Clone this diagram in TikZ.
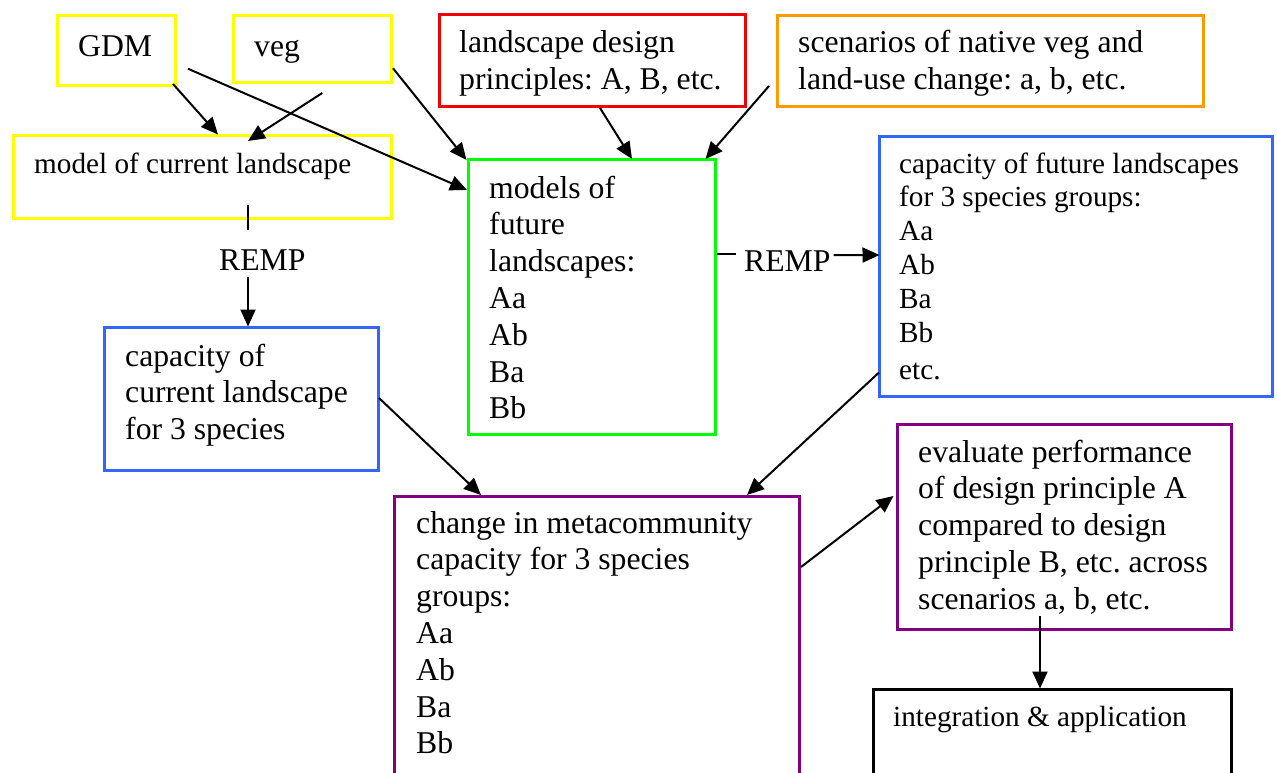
\documentclass[tikz,border=0pt]{standalone}
\usepackage{fontspec}
\setmainfont{Liberation Serif}
\usetikzlibrary{arrows.meta,calc}
\newcommand{\mylines}[1]{\begin{tabular}[t]{@{}l@{}}#1\end{tabular}}
\definecolor{cyel}{RGB}{255,255,0}
\definecolor{cred}{RGB}{240,0,0}
\definecolor{corange}{RGB}{255,153,0}
\definecolor{cgreen}{RGB}{0,255,0}
\definecolor{cblue}{RGB}{51,102,255}
\definecolor{cpurple}{RGB}{128,0,128}
\frenchspacing
\begin{document}
\begin{tikzpicture}[x=1pt,y=-1pt,
  box/.style={draw=#1, line width=3pt, rectangle, inner sep=0pt, outer sep=0pt, anchor=north west},
  big/.style={font=\fontsize{31.7}{36.8}\selectfont, inner sep=0pt, anchor=base west},
  small/.style={font=\fontsize{29.2}{33.8}\selectfont, inner sep=0pt, anchor=base west},
  arr/.style={line width=2pt, -{Triangle[length=17pt,width=15pt]}},
  tickline/.style={line width=1.3pt}]
\useasboundingbox (0,0) rectangle (1277,773);
\clip (0,0) rectangle (1277,773);

% boxes
\node[box=cyel, minimum width=117.5pt, minimum height=70.5pt] (gdm) at (57.5,15.5) {};
\node[box=cyel, minimum width=158.5pt, minimum height=66.5pt] (veg) at (233,16) {};
\node[box=cyel, minimum width=378pt, minimum height=83pt] (model) at (13.5,135.5) {};
\node[box=cred, minimum width=306pt, minimum height=92pt] (design) at (439,15) {};
\node[box=corange, minimum width=426pt, minimum height=91pt] (scen) at (777.5,15.5) {};
\node[box=cgreen, minimum width=247pt, minimum height=274.5pt] (green) at (468.5,160) {};
\node[box=cblue, minimum width=393pt, minimum height=260pt] (futcap) at (879.5,136.5) {};
\node[box=cblue, minimum width=274pt, minimum height=143pt] (curcap) at (104.5,327.5) {};
\node[box=cpurple, minimum width=405pt, minimum height=303.5pt] (change) at (394.5,496.5) {};
\node[box=cpurple, minimum width=334pt, minimum height=205pt] (eval) at (897.5,424.5) {};
\node[box=black, minimum width=358pt, minimum height=110.5pt] (integ) at (873.5,689.5) {};

% texts
\node[big] (gdmT) at (78,57) {GDM};
\node[big] (vegT) at (254,57) {veg};
\node[small] (modelT) at (34,173) {model of current landscape};
\node[big] (designT) at (459,53) {\mylines{landscape design\\principles: A, B, etc.}};
\node[big] (scenT) at (798,53) {\mylines{scenarios of native veg and\\land-use change: a, b, etc.}};
\node[big] (greenT) at (489,198) {\mylines{models of\\future\\landscapes:\\Aa\\Ab\\Ba\\Bb}};
\node[small] (futT) at (899,173) {\mylines{capacity of future landscapes\\for 3 species groups:\\Aa\\Ab\\Ba\\Bb\\[3.5pt]etc.}};
\node[big] (curT) at (125,366) {\mylines{capacity of\\current landscape\\for 3 species}};
\node[big] (changeT) at (416,533) {\mylines{change in metacommunity\\capacity for 3 species\\groups:\\Aa\\Ab\\Ba\\Bb}};
\node[big] (evalT) at (918,462) {\mylines{evaluate performance\\of design principle A\\compared to design\\principle B, etc. across\\scenarios a, b, etc.}};
\node[small] (integT) at (893,726) {integration \& application};
\node[big] (remL) at (219,270) {REMP};
\node[big] (rempR) at (744,271) {REMP};

% connectors
\draw[arr] ($(gdm.south east)+(-2,-2)$) -- ($(model.north)+(15.5,-1)$);
\draw[arr] ($(veg.south)+(10,10.5)$) -- ($(model.north)+(45.5,5.5)$);
\draw[arr] ($(gdm.east)+(13,18)$) -- ($(green.north west)+(-1.5,30)$);
\draw[arr] ($(veg.east)+(1.5,19)$) -- ($(green.north west)+(-2,0)$);
\draw[arr] ($(design.south)+(8,1)$) -- ($(green.north)+(40,-1)$);
\draw[arr] ($(scen.west)+(-8.5,25)$) -- ($(green.north east)+(-10,-1)$);

\draw[tickline] ($(green.north east)+(1.5,94)$) -- ++(19,0);
\draw[arr] ($(rempR.east)+(3,-5.5)$) -- ($(futcap.west)+(0,-11.5)$);

\draw[tickline] ($(model.south)+(45.5,-13.5)$) -- ++(0,25);
\draw[arr] ($(remL.south west)+(29,7)$) -- ($(curcap.north)+(6.5,-1)$);

\draw[arr] ($(curcap.east)+(0.5,-1)$) -- ($(change.north west)+(86.5,-1.5)$);
\draw[arr] ($(futcap.west)+(-0.5,106)$) -- ($(change.north east)+(-52.5,-1.5)$);
\draw[arr] ($(change.north east)+(1.5,70.5)$) -- ($(eval.west)+(-4,-31)$);
\draw[arr] ($(eval.south)+(-24.5,-13.5)$) -- ($(integ.north)+(-12.5,-1)$);
\end{tikzpicture}
\end{document}
